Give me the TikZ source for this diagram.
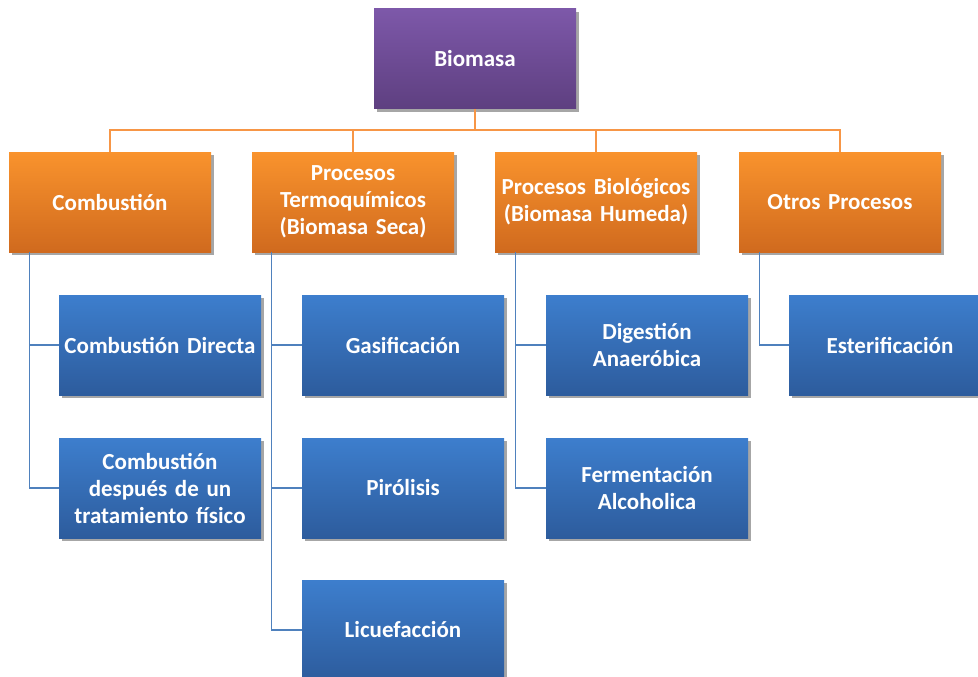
\documentclass[tikz,border=0pt]{standalone}
\usepackage{fontspec}
\setmainfont[WordSpace=0.7]{Carlito}
\usetikzlibrary{shadows}

\definecolor{purpletop}{HTML}{7D58A9}
\definecolor{purplebot}{HTML}{5E3F80}
\definecolor{orangetop}{HTML}{F9932D}
\definecolor{orangebot}{HTML}{D06A1E}
\definecolor{bluetop}{HTML}{3D7ECD}
\definecolor{bluebot}{HTML}{2D5C9D}
\definecolor{orangeline}{HTML}{F79646}
\definecolor{blueline}{HTML}{4F81BD}

\tikzset{
	box/.style={minimum width=202pt,minimum height=100pt,text width=200pt,align=center,
		inner sep=0pt,text=white,font=\fontsize{23}{27}\selectfont\bfseries,
		drop shadow={shadow xshift=2.5pt,shadow yshift=-3pt,opacity=0.35,fill=black}},
	rootbox/.style={box,top color=purpletop,bottom color=purplebot},
	groupbox/.style={box,top color=orangetop,bottom color=orangebot},
	leafbox/.style={box,top color=bluetop,bottom color=bluebot},
	orangelink/.style={draw=orangeline,line width=1.3pt},
	bluelink/.style={draw=blueline,line width=1.3pt}
}

\begin{document}
\begin{tikzpicture}[x=1pt,y=-1pt]
	\path[use as bounding box,clip] (0,0) rectangle (978,677);
	% first and second levels
	\node[rootbox] (bio) at (475,59) {Biomasa};
	\node[groupbox] (comb) at (110,202) {Combustión};
	\node[groupbox] (termo) at (353,202) {Procesos\\Termoquímicos\\(Biomasa Seca)};
	\node[groupbox] (biol) at (596,202) {Procesos Biológicos\\(Biomasa Humeda)};
	\node[groupbox] (otros) at (840,202) {Otros Procesos};
	% leaves
	\node[leafbox] (cdir) at (160,345) {Combustión Directa};
	\node[leafbox] (ctrat) at (160,488) {Combustión\\después de un\\tratamiento físico};
	\node[leafbox] (gas) at (403,345) {Gasificación};
	\node[leafbox] (piro) at (403,488) {Pirólisis};
	\node[leafbox] (licu) at (403,630) {Licuefacción};
	\node[leafbox] (dig) at (647,345) {Digestión\\Anaeróbica};
	\node[leafbox] (ferm) at (647,488) {Fermentación\\Alcoholica};
	\node[leafbox] (ester) at (890,345) {Esterificación};
	% orange tree
	\coordinate (hub) at (475,130);
	\path[orangelink] (bio.south) -- (hub);
	\foreach \g in {comb,termo,biol,otros}
		\path[orangelink] (hub) -| (\g.north);
	% blue branches
	\path[bluelink] (comb.south west) ++(21,0) coordinate (cbar) |- (ctrat.west);
	\path[bluelink] (cbar |- cdir.west) -- (cdir.west);
	\path[bluelink] (termo.south west) ++(20,0) coordinate (tbar) |- (licu.west);
	\foreach \l in {gas,piro}
		\path[bluelink] (tbar |- \l.west) -- (\l.west);
	\path[bluelink] (biol.south west) ++(21,0) coordinate (bbar) |- (ferm.west);
	\path[bluelink] (bbar |- dig.west) -- (dig.west);
	\path[bluelink] (otros.south west) ++(21,0) |- (ester.west);
\end{tikzpicture}
\end{document}
